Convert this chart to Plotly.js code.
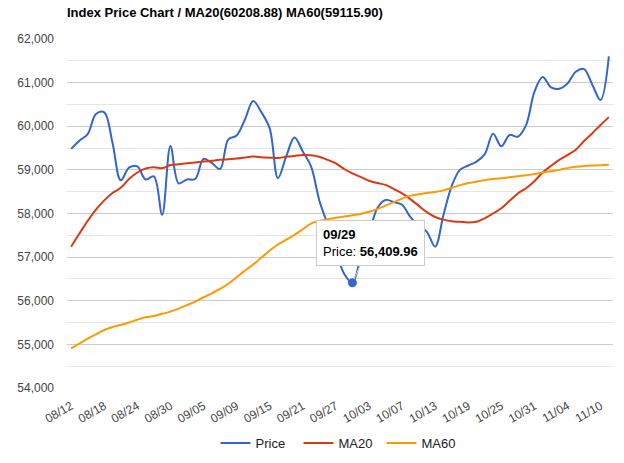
<!DOCTYPE html>
<html>
<head>
<meta charset="utf-8">
<script src="https://cdn.plot.ly/plotly-3.0.1.min.js"></script>
<style>html,body{margin:0;padding:0;background:#fff;}#chart{width:624px;height:463px;}</style>
</head>
<body>
<div id="chart"></div>
<script>
const dates = [
  "08/12","08/13","08/14","08/15","08/18","08/19","08/20","08/21",
  "08/24","08/25","08/26","08/27","08/30","08/31","09/01","09/02",
  "09/05","09/06","09/07","09/08","09/09","09/10","09/11","09/12",
  "09/15","09/16","09/17","09/18","09/21","09/22","09/23","09/24",
  "09/27","09/28","09/29","09/30","10/03","10/04","10/05","10/06",
  "10/07","10/08","10/09","10/10","10/13","10/14","10/15","10/16",
  "10/19","10/20","10/21","10/22","10/25","10/26","10/27","10/28",
  "10/31","11/01","11/02","11/03","11/04","11/05","11/06","11/07",
  "11/10","11/11"
];
const tickLabels = ["08/12","08/18","08/24","08/30","09/05","09/09","09/15","09/21","09/27","10/03","10/07","10/13","10/19","10/25","10/31","11/04","11/10"];
const price = [
  59480,59670,59820,60280,60320,59620,58760,59050,
  59080,58780,58850,57970,59550,58690,58780,58790,
  59250,59160,59020,59700,59790,60150,60580,60320,
  59950,58810,59310,59740,59420,59080,58300,57750,
  57150,56620,56409.96,56990,57510,58120,58310,58260,
  58200,57920,57720,57580,57240,57960,58630,59000,
  59100,59190,59360,59830,59540,59800,59760,60030,
  60790,61130,60890,60860,60980,61250,61310,60950,
  60600,61600
];
const ma20 = [
  57240,57540,57830,58090,58300,58470,58590,58790,
  58940,59030,59060,59040,59110,59130,59150,59170,
  59190,59210,59230,59245,59260,59285,59305,59290,
  59280,59270,59300,59320,59340,59335,59300,59230,
  59150,59020,58920,58840,58750,58700,58655,58560,
  58460,58330,58180,58030,57920,57860,57820,57810,
  57795,57810,57890,58000,58120,58290,58460,58580,
  58740,58940,59090,59230,59340,59460,59660,59840,
  60030,60208.88
];
const ma60 = [
  54910,55020,55130,55230,55330,55400,55445,55500,
  55565,55620,55650,55700,55750,55820,55900,55980,
  56080,56170,56270,56390,56540,56690,56830,56990,
  57150,57290,57400,57510,57640,57770,57830,57870,
  57900,57930,57960,57990,58040,58100,58180,58260,
  58340,58410,58440,58470,58495,58530,58590,58650,
  58697,58730,58765,58790,58810,58830,58855,58875,
  58905,58940,58970,59000,59040,59070,59090,59100,
  59105,59115.90
];
const seriesNames = ["Price","MA20","MA60"];
const colors = ["#3366cc","#dc3912","#ff9900"];
const focusDate = "09/29";

const FONT = "Liberation Sans, Arial, sans-serif";
const fi = dates.indexOf(focusDate);
const fv = price[fi];
const fvText = fv.toLocaleString("en-US",{minimumFractionDigits:2,maximumFractionDigits:2});

const traces = [price, ma20, ma60].map((ys,k)=>({
  type:"scatter", mode:"lines", x:dates, y:ys, name:seriesNames[k],
  line:{color:colors[k], width:2, shape:"spline", smoothing:1},
  hoverinfo:"skip"
}));
traces.push({
  type:"scatter", mode:"markers", x:[focusDate], y:[fv], showlegend:false,
  marker:{color:colors[0], size:9, line:{width:0}}, hoverinfo:"skip"
});

const layout = {
  width:624, height:463,
  margin:{l:67, r:11, t:39, b:75, autoexpand:false},
  paper_bgcolor:"#fff", plot_bgcolor:"#fff",
  font:{family:FONT, size:12, color:"#444"},
  title:{text:"<b>Index Price Chart / MA20(60208.88) MA60(59115.90)</b>",
    font:{family:FONT, size:13, color:"#000"}, automargin:false,
    x:67/624, xanchor:"left", xref:"container", y:1-12/463, yanchor:"middle", yref:"container"},
  xaxis:{type:"category", categoryorder:"array", categoryarray:dates,
    range:[-0.5, dates.length-0.5], automargin:false,
    tickmode:"array", tickvals:tickLabels, ticktext:tickLabels,
    tickangle:-30, showgrid:false, showline:false, zeroline:false, ticks:"",
    tickfont:{family:FONT, size:12, color:"#444"}, ticklabelstandoff:8},
  yaxis:{range:[54000,62000], dtick:1000, tick0:54000, tickformat:",d", automargin:false,
    showgrid:true, gridcolor:"#cccccc", gridwidth:1, zeroline:false, showline:false, ticks:"",
    minor:{dtick:500, tick0:54000, showgrid:true, gridcolor:"#e6e6e6", gridwidth:1},
    tickfont:{family:FONT, size:12, color:"#444"}, ticklabelstandoff:12},
  showlegend:true,
  legend:{orientation:"h", x:0.5, xanchor:"center", xref:"paper",
    y:1-443/463, yanchor:"middle", yref:"container",
    entrywidth:38, entrywidthmode:"pixels",
    font:{family:FONT, size:13, color:"#222"}, bgcolor:"rgba(0,0,0,0)"},
  hovermode:false,
  annotations:[{
    x:focusDate, y:fv, xref:"x", yref:"y",
    text:"<b>"+focusDate+"</b><br>Price: <b>"+fvText+"</b>",
    showarrow:true, arrowhead:0, arrowwidth:1, arrowcolor:"#cccccc",
    ax:18, ay:-40, standoff:4,
    align:"left", bgcolor:"#ffffff", bordercolor:"#cccccc", borderwidth:1, borderpad:6,
    font:{family:FONT, size:13, color:"#000"}
  }]
};

Plotly.newPlot("chart", traces, layout, {staticPlot:true, displayModeBar:false});
</script>
</body>
</html>
